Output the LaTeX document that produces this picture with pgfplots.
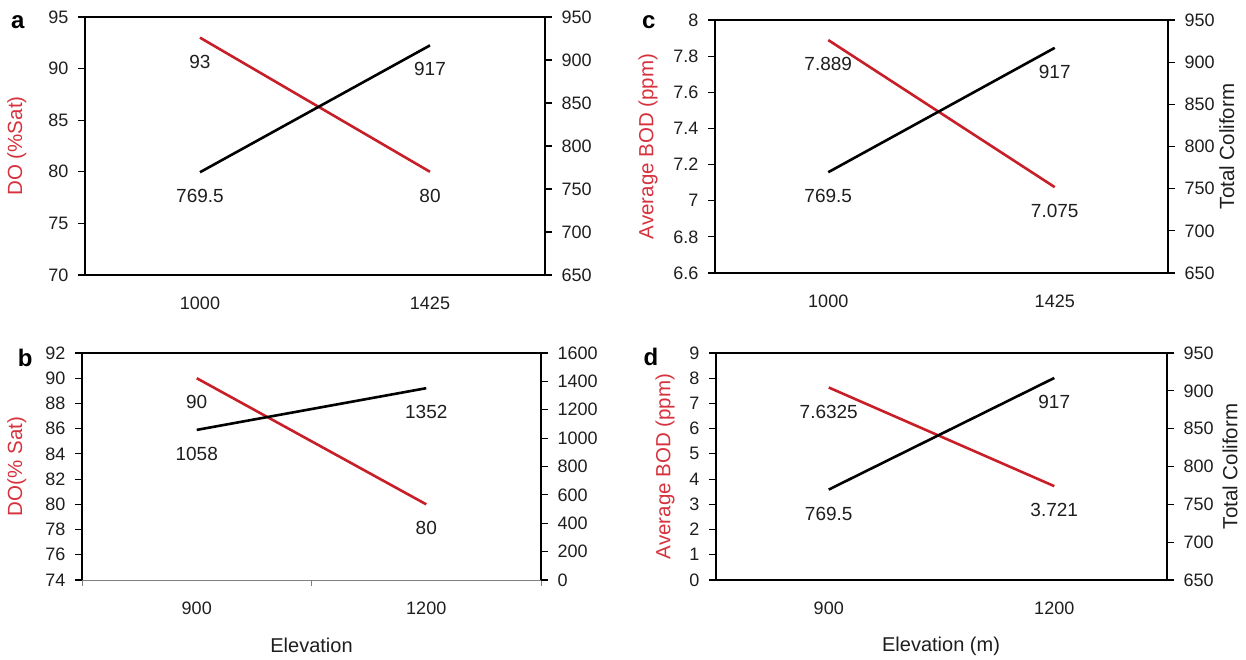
\documentclass[border=0pt]{standalone}
\usepackage{pgfplots}
\pgfplotsset{compat=1.18}
\usepackage{fontspec}
\setmainfont{Liberation Sans}
\definecolor{myred}{RGB}{200,30,40}
\definecolor{labred}{RGB}{214,50,62}
\definecolor{txt}{RGB}{30,30,30}
\pgfplotsset{
  base/.style={scale only axis, xmin=-0.5, xmax=1.5, clip=false,
    /pgf/number format/assume math mode=true,
    /pgf/number format/1000 sep={},
    tick align=outside, major tick length=7pt,
    every tick/.style={black, line width=1.2pt},
    axis line style={line width=1.4pt, black},
    tick label style={font=\fontsize{18}{20}\selectfont, text=txt},
    label style={font=\fontsize{20}{22}\selectfont},
  },
  leftax/.style={base, axis x line*=bottom, axis y line*=left, xtick={0,1},
    xtick style={draw=none}, xticklabel style={yshift=-11pt},
    yticklabel style={xshift=-6pt},
    every axis y label/.style={at={(axis description cs:#1,0.5)}, rotate=90, anchor=center, text=labred, font=\fontsize{20.5}{22}\selectfont},
  },
  rightax/.style={base, axis x line*=top, axis y line*=right, xtick=\empty,
    yticklabel style={xshift=6pt},
    every axis y label/.style={at={(axis description cs:#1,0.5)}, rotate=90, anchor=center, text=txt, font=\fontsize{20.5}{22}\selectfont},
  },
  dl/.style={nodes near coords, point meta=explicit symbolic,
    every node near coord/.style={anchor=center, yshift=-24pt, font=\fontsize{19}{21}\selectfont, text=txt}},
  redline/.style={myred, line width=2.6pt, mark=none},
  blkline/.style={black, line width=2.6pt, mark=none},
}
\begin{document}
\begin{tikzpicture}
\path[use as bounding box] (0pt,0pt) rectangle (1246pt,-660pt);
% ---------- panel a ----------
\begin{axis}[leftax=-0.148, at={(85pt,-17pt)}, anchor=north west, width=460pt, height=258pt,
  ymin=70, ymax=95, ytick={70,75,80,85,90,95}, xticklabels={1000,1425},
  ylabel={DO (\%Sat)}]
  \addplot[redline, dl] coordinates {(0,93) [93] (1,80) [80]};
  \node[font=\bfseries\fontsize{24}{26}\selectfont] at (axis description cs:-0.146,0.981) {a};
\end{axis}
\begin{axis}[rightax=1.2, at={(85pt,-17pt)}, anchor=north west, width=460pt, height=258pt,
  ymin=650, ymax=950, ytick={650,700,750,800,850,900,950}]
  \addplot[blkline, dl] coordinates {(0,769.5) [769.5] (1,917) [917]};
\end{axis}
% ---------- panel c ----------
\begin{axis}[leftax=-0.148, at={(715pt,-20pt)}, anchor=north west, width=453pt, height=253pt,
  ymin=6.6, ymax=8, ytick={6.6,6.8,7,7.2,7.4,7.6,7.8,8}, xticklabels={1000,1425},
  ylabel={Average BOD (ppm)}]
  \addplot[redline, dl] coordinates {(0,7.889) [7.889] (1,7.075) [7.075]};
  \node[font=\bfseries\fontsize{24}{26}\selectfont] at (axis description cs:-0.146,0.992) {c};
\end{axis}
\begin{axis}[rightax=1.130, at={(715pt,-20pt)}, anchor=north west, width=453pt, height=253pt,
  ymin=650, ymax=950, ytick={650,700,750,800,850,900,950}, ylabel={Total Coliform}]
  \addplot[blkline, dl] coordinates {(0,769.5) [769.5] (1,917) [917]};
\end{axis}
% ---------- panel b ----------
\begin{axis}[leftax=-0.142, at={(82pt,-353pt)}, anchor=north west, width=459pt, height=227pt,
  ymin=74, ymax=92, ytick={74,76,78,80,82,84,86,88,90,92}, xticklabels={900,1200},
  x axis line style={gray, line width=1pt},
  extra x ticks={-0.5,0.5,1.5}, extra x tick labels={},
  extra x tick style={xtick style={draw=gray, line width=1pt}, major tick length=6pt},
  ylabel={DO(\% Sat)}, xlabel={Elevation},
  xlabel style={at={(axis description cs:0.5,-0.29)}, anchor=center, text=txt}]
  \addplot[redline, dl] coordinates {(0,90) [90] (1,80) [80]};
  \node[font=\bfseries\fontsize{24}{26}\selectfont] at (axis description cs:-0.124,0.978) {b};
\end{axis}
\begin{axis}[rightax=1.2, at={(82pt,-353pt)}, anchor=north west, width=459pt, height=227pt,
  ymin=0, ymax=1600, ytick={0,200,400,600,800,1000,1200,1400,1600}]
  \addplot[blkline, dl] coordinates {(0,1058) [1058] (1,1352) [1352]};
\end{axis}
% ---------- panel d ----------
\begin{axis}[leftax=-0.113, at={(716pt,-353pt)}, anchor=north west, width=451pt, height=227pt,
  ymin=0, ymax=9, ytick={0,1,2,3,4,5,6,7,8,9}, xticklabels={900,1200},
  ylabel={Average BOD (ppm)}, xlabel={Elevation (m)},
  xlabel style={at={(axis description cs:0.499,-0.29)}, anchor=center, text=txt}]
  \addplot[redline, dl] coordinates {(0,7.6325) [7.6325] (1,3.721) [3.721]};
  \node[font=\bfseries\fontsize{24}{26}\selectfont] at (axis description cs:-0.144,0.982) {d};
\end{axis}
\begin{axis}[rightax=1.140, at={(716pt,-353pt)}, anchor=north west, width=451pt, height=227pt,
  ymin=650, ymax=950, ytick={650,700,750,800,850,900,950}, ylabel={Total Coliform}]
  \addplot[blkline, dl] coordinates {(0,769.5) [769.5] (1,917) [917]};
\end{axis}
\end{tikzpicture}
\end{document}
